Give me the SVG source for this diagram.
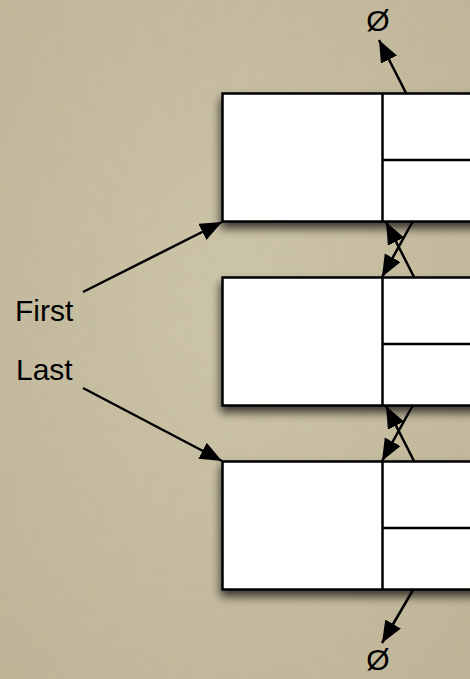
<svg xmlns="http://www.w3.org/2000/svg" width="470" height="679" viewBox="0 0 470 679">
  <defs>
    <radialGradient id="bg" cx="50%" cy="45%" r="75%">
      <stop offset="0" stop-color="#cfc7aa"/>
      <stop offset="1" stop-color="#bfb496"/>
    </radialGradient>
    <filter id="noise" x="0" y="0" width="100%" height="100%">
      <feTurbulence type="fractalNoise" baseFrequency="0.06" numOctaves="3" seed="4" result="n"/>
      <feColorMatrix in="n" type="matrix" values="0 0 0 0 0.45  0 0 0 0 0.42  0 0 0 0 0.33  0 0 0 0.18 0"/>
    </filter>
    <filter id="shadow" x="-20%" y="-20%" width="140%" height="150%">
      <feDropShadow dx="-1" dy="6" stdDeviation="5" flood-color="#000" flood-opacity="0.7"/>
    </filter>
    <marker id="ah" markerUnits="userSpaceOnUse" markerWidth="24" markerHeight="20" refX="22" refY="9" orient="auto">
      <path d="M0,0 L22,9 L0,18 Z" fill="#000"/>
    </marker>
    <style>
      .box { fill: #fff; stroke: #000; stroke-width: 2.5; }
      .div { stroke: #000; stroke-width: 2.5; fill: none; }
      .conn { stroke: #000; stroke-width: 2.5; fill: none; marker-end: url(#ah); }
      .lbl { font-family: "Liberation Sans", Arial, sans-serif; font-size: 30px; fill: #000; }
      .nil { font-family: "Liberation Sans", Arial, sans-serif; font-size: 30px; fill: #000; text-anchor: middle; }
    </style>
  </defs>
  <rect width="470" height="679" fill="url(#bg)"/>
  <rect width="470" height="679" filter="url(#noise)"/>

  <g id="node1">
    <rect class="box" x="222.5" y="93.5" width="270" height="128" filter="url(#shadow)"/>
    <line class="div" x1="382.5" y1="93.5" x2="382.5" y2="221.5"/>
    <line class="div" x1="382.5" y1="160" x2="480" y2="160"/>
  </g>
  <g id="node2">
    <rect class="box" x="222.5" y="277.5" width="270" height="128" filter="url(#shadow)"/>
    <line class="div" x1="382.5" y1="277.5" x2="382.5" y2="405.5"/>
    <line class="div" x1="382.5" y1="344" x2="480" y2="344"/>
  </g>
  <g id="node3">
    <rect class="box" x="222.5" y="461.5" width="270" height="128" filter="url(#shadow)"/>
    <line class="div" x1="382.5" y1="461.5" x2="382.5" y2="589.5"/>
    <line class="div" x1="382.5" y1="528" x2="480" y2="528"/>
  </g>

  <g id="nil-top"><text class="nil" x="378" y="31">Ø</text></g>
  <g id="nil-bottom"><text class="nil" x="378" y="670">Ø</text></g>
  <g id="first"><text class="lbl" x="15" y="321">First</text></g>
  <g id="last"><text class="lbl" x="16" y="380">Last</text></g>

  <g id="connectors">
    <line class="conn" x1="406" y1="93" x2="379" y2="40"/>
    <line class="conn" x1="414" y1="277" x2="386" y2="222"/>
    <line class="conn" x1="413" y1="221" x2="382" y2="277"/>
    <line class="conn" x1="414" y1="461" x2="386" y2="406"/>
    <line class="conn" x1="413" y1="405" x2="382" y2="461"/>
    <line class="conn" x1="413" y1="590" x2="382" y2="643"/>
    <line class="conn" x1="83" y1="292" x2="222" y2="222"/>
    <line class="conn" x1="83" y1="388" x2="222" y2="461"/>
  </g>
</svg>
